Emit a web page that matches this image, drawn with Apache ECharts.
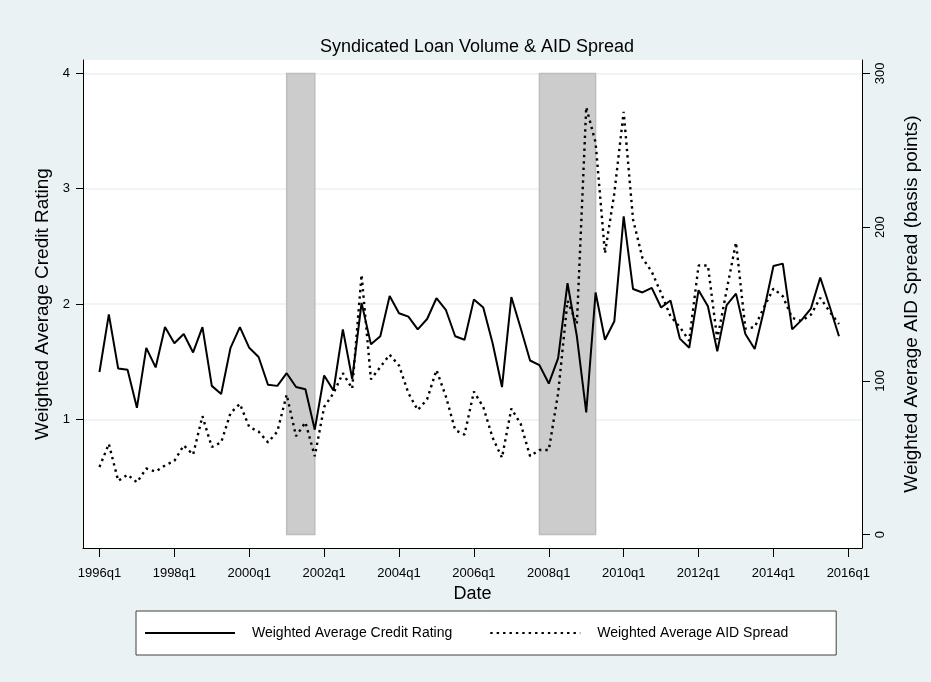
<!DOCTYPE html>
<html>
<head>
<meta charset="utf-8">
<script src="https://cdn.jsdelivr.net/npm/echarts@6/dist/echarts.min.js"></script>
<style>
  html, body { margin: 0; padding: 0; background: #eaf2f3; }
  #chart { width: 931px; height: 682px; }
</style>
</head>
<body>
<div id="chart"></div>
<script>
// Quarterly series, 1996q1 .. 2015q4
const startYear = 1996;

const creditRating = [
  1.41, 1.91, 1.44, 1.43, 1.10, 1.62, 1.45, 1.80, 1.66, 1.74,
  1.58, 1.80, 1.29, 1.22, 1.62, 1.80, 1.62, 1.54, 1.30, 1.29,
  1.40, 1.28, 1.26, 0.91, 1.38, 1.25, 1.78, 1.35, 2.01, 1.65,
  1.72, 2.07, 1.92, 1.89, 1.78, 1.87, 2.05, 1.95, 1.72, 1.69,
  2.04, 1.97, 1.66, 1.28, 2.06, 1.79, 1.51, 1.47, 1.31, 1.53,
  2.18, 1.72, 1.06, 2.10, 1.69, 1.85, 2.76, 2.13, 2.10, 2.14,
  1.97, 2.03, 1.70, 1.62, 2.12, 1.98, 1.59, 1.99, 2.09, 1.74,
  1.61, 1.95, 2.33, 2.35, 1.78, 1.86, 1.96, 2.23, 1.98, 1.72
];

const aidSpread = [
  44, 59, 35, 39, 34, 43, 41, 45, 48, 58,
  52, 77, 57, 60, 79, 85, 70, 67, 60, 67,
  91, 64, 73, 51, 83, 92, 105, 95, 169, 101,
  109, 117, 110, 92, 81, 88, 107, 90, 68, 65,
  93, 83, 63, 50, 82, 72, 51, 55, 55, 92,
  152, 137, 278, 255, 183, 222, 275, 205, 180, 171,
  157, 142, 135, 126, 175, 175, 127, 159, 190, 134,
  135, 148, 160, 155, 141, 139, 143, 154, 145, 137
];

const xTickLabels = ['1996q1', '1998q1', '2000q1', '2002q1', '2004q1', '2006q1',
                     '2008q1', '2010q1', '2012q1', '2014q1', '2016q1'];
const leftTicks = [1, 2, 3, 4];
const rightTicks = [0, 100, 200, 300];
const recessions = [['2001q1', '2001q4'], ['2007q4', '2009q2']];

const FONT = 'Liberation Sans, Arial, sans-serif';

function quarterIndex(label) {
  const y = +label.slice(0, 4);
  const q = +label.slice(5);
  return (y - startYear) * 4 + (q - 1);
}
const xTickValues = xTickLabels.map(quarterIndex);

const creditData = creditRating.map((v, i) => [i, v]);
const spreadData = aidSpread.map((v, i) => [i, v]);

const chart = echarts.init(document.getElementById('chart'), null, { renderer: 'canvas' });

chart.setOption({
  animation: false,
  backgroundColor: '#eaf2f3',
  textStyle: { fontFamily: FONT },
  title: {
    text: 'Syndicated Loan Volume & AID Spread',
    left: 472,
    top: 33,
    textAlign: 'center',
    textStyle: { fontSize: 18, fontWeight: 'normal', color: '#000', fontFamily: FONT }
  },
  grid: {
    left: 83, top: 60, width: 779, height: 488,
    show: true, backgroundColor: '#ffffff', borderWidth: 0
  },
  legend: {
    data: ['Weighted Average Credit Rating', 'Weighted Average AID Spread'],
    left: 136, top: 611,
    itemWidth: 90, itemHeight: 14, itemGap: 37,
    padding: [15, 48, 15, 8],
    backgroundColor: '#ffffff', borderColor: '#404040', borderWidth: 1,
    itemStyle: { opacity: 0 },
    textStyle: { fontSize: 14, color: '#000', fontFamily: FONT, padding: [0, 0, 0, 12] }
  },
  xAxis: {
    type: 'value',
    min: -1.76, max: 81.46,
    name: 'Date', nameLocation: 'middle', nameGap: 36,
    nameTextStyle: { fontSize: 18, color: '#000', fontFamily: FONT },
    axisLine: { show: true, onZero: false, lineStyle: { color: '#000', width: 1 } },
    axisTick: { show: true, length: 9, customValues: xTickValues, lineStyle: { color: '#000' } },
    axisLabel: {
      customValues: xTickValues, margin: 19, fontSize: 13, color: '#000', fontFamily: FONT,
      formatter: v => xTickLabels[xTickValues.indexOf(v)]
    },
    splitLine: { show: false }
  },
  yAxis: [
    {
      type: 'value', position: 'left',
      min: -0.116, max: 4.116,
      name: 'Weighted Average Credit Rating', nameLocation: 'middle', nameGap: 31,
      nameTextStyle: { fontSize: 19, color: '#000', fontFamily: FONT },
      axisLine: { show: true, onZero: false, lineStyle: { color: '#000', width: 1 } },
      axisTick: { show: true, length: 7, customValues: leftTicks, lineStyle: { color: '#000' } },
      axisLabel: { customValues: leftTicks, margin: 13, fontSize: 13, color: '#000', fontFamily: FONT },
      splitLine: { show: true, lineStyle: { color: '#eaf2f3', width: 1.5 } }
    },
    {
      type: 'value', position: 'right',
      min: -8.72, max: 308.7,
      name: 'Weighted Average AID Spread (basis points)', nameLocation: 'middle', nameGap: 40,
      nameTextStyle: { fontSize: 19, color: '#000', fontFamily: FONT },
      axisLine: { show: true, onZero: false, lineStyle: { color: '#000', width: 1 } },
      axisTick: { show: true, length: 8, customValues: rightTicks, lineStyle: { color: '#000' } },
      axisLabel: { customValues: rightTicks, rotate: 90, margin: 12, fontSize: 13, color: '#000', fontFamily: FONT },
      splitLine: { show: false }
    }
  ],
  series: [
    {
      name: 'Weighted Average Credit Rating',
      type: 'line',
      xAxisIndex: 0, yAxisIndex: 0,
      data: creditData,
      symbol: 'none', showSymbol: false,
      lineStyle: { color: '#000', width: 2 },
      itemStyle: { color: '#000' },
      z: 3,
      markArea: {
        silent: true,
        itemStyle: { color: '#cccccc', borderColor: '#bdbdbd', borderWidth: 1.5 },
        data: recessions.map(([a, b]) => [
          { xAxis: quarterIndex(a), yAxis: 0 },
          { xAxis: quarterIndex(b), yAxis: 4 }
        ])
      }
    },
    {
      name: 'Weighted Average AID Spread',
      type: 'line',
      xAxisIndex: 0, yAxisIndex: 1,
      data: spreadData,
      symbol: 'none', showSymbol: false,
      lineStyle: { color: '#000', width: 2.4, type: [2.4, 4] },
      itemStyle: { color: '#000' },
      z: 3
    }
  ]
});
</script>
</body>
</html>
